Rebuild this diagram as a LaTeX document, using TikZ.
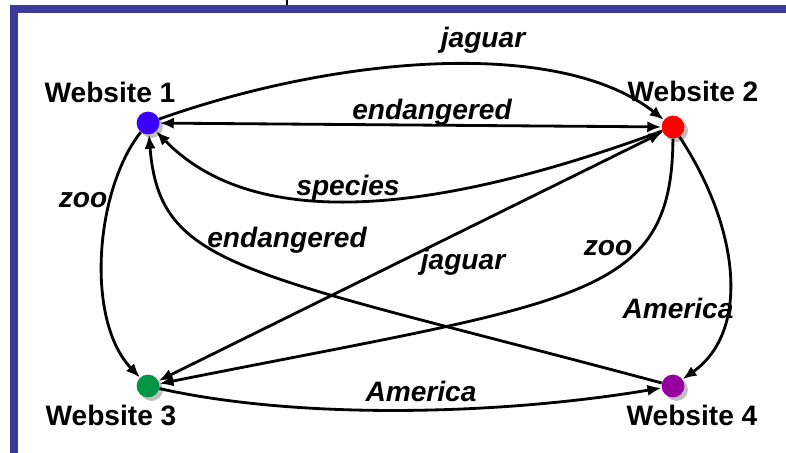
\documentclass[tikz,border=0pt]{standalone}
\usepackage{fontspec}
\setmainfont{Liberation Sans}
\usetikzlibrary{arrows.meta,shadows}
\definecolor{framecol}{RGB}{58,58,154}
\definecolor{siteblue}{RGB}{60,0,255}
\definecolor{sitered}{RGB}{255,0,0}
\definecolor{sitegreen}{RGB}{0,150,70}
\definecolor{sitepurple}{RGB}{150,0,160}
\begin{document}
\begin{tikzpicture}[x=0.025cm, y=-0.025cm,
  site/.style={circle, minimum size=0.57cm, inner sep=0pt,
    drop shadow={shadow xshift=2.5pt, shadow yshift=-2.5pt, fill=gray!50, opacity=1}},
  sitelabel/.style={font=\fontsize{20}{24}\selectfont\bfseries},
  edgelabel/.style={font=\fontsize{20}{24}\selectfont\bfseries\itshape},
  link/.style={line width=2pt, -{Latex[length=10pt, width=8pt]}},
  twoway/.style={line width=2pt, {Latex[length=10pt, width=8pt]}-{Latex[length=10pt, width=8pt]}}]
  \useasboundingbox (0,0) rectangle (786,452);
  \clip (0,0) rectangle (786,452);

  % Frame
  \draw[framecol, line width=5.7pt] (14,9) rectangle (800,470);
  \draw[line width=1.5pt] (287,0) -- (287,5);

  % Websites
  \node[site, fill=siteblue]   (w1) at (148,123) {};
  \node[site, fill=sitered]    (w2) at (673,127) {};
  \node[site, fill=sitegreen]  (w3) at (148,386) {};
  \node[site, fill=sitepurple] (w4) at (673,386) {};
  \node[sitelabel] (t1) at (110,92)  {Website 1};
  \node[sitelabel] (t2) at (693,91)  {Website 2};
  \node[sitelabel] (t3) at (111,415) {Website 3};
  \node[sitelabel] (t4) at (692,415) {Website 4};

  % Links
  \draw[link]   (w1) .. controls (340,55) and (560,38) .. (w2);
  \draw[twoway] (w1) -- (w2);
  \draw[link]   (w2) .. controls (420,220) and (250,228) .. (w1);
  \draw[link]   (w1) .. controls (95,190) and (85,320) .. (w3);
  \draw[link]   (w4) .. controls (240,270) and (160,270) .. (w1);
  \draw[twoway] (w3) -- (w2);
  \draw[link]   (w2) .. controls (672,300) and (580,300) .. (w3);
  \draw[link]   (w2) .. controls (738,225) and (752,330) .. (w4);
  \draw[link]   (w3) .. controls (300,420) and (500,415) .. (w4);

  % Link labels
  \foreach \n/\x/\y/\txt in {a/483/40/jaguar, b/432/112/endangered,
      c/348/188/species, d/83/200/zoo, e/287/240/endangered,
      f/463/262/jaguar, g/608/248/zoo, h/678/308/America, i/421/391/America} {
    \node[edgelabel] (l\n) at (\x,\y) {\txt};
  }
\end{tikzpicture}
\end{document}
